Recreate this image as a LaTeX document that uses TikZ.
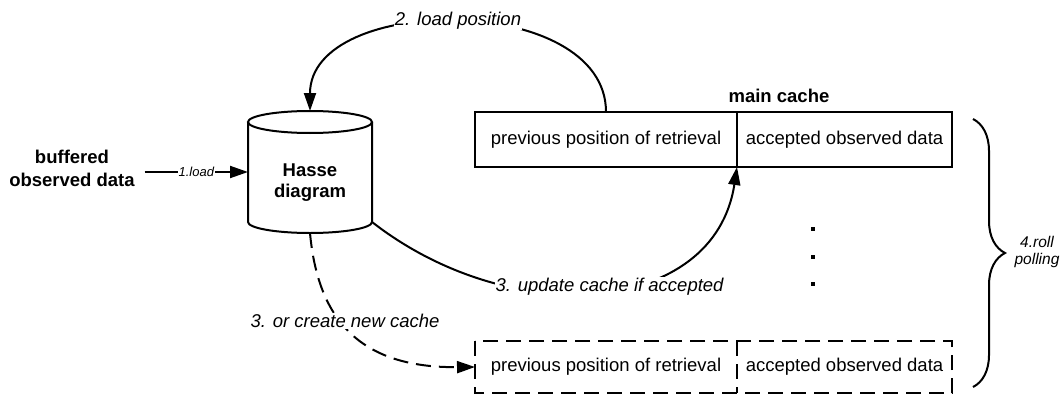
\documentclass[tikz,border=0pt]{standalone}
\usepackage{fontspec}
\setmainfont{Liberation Sans}
\usetikzlibrary{arrows.meta,decorations.pathreplacing}
\begin{document}
\begin{tikzpicture}[x=1pt,y=-1pt,line width=2pt,
  plain/.style={font=\fontsize{18.5}{22}\selectfont},
  boldtxt/.style={font=\fontsize{18.5}{23}\selectfont\bfseries},
  lbl/.style={font=\fontsize{18.5}{22}\selectfont\itshape, fill=white, inner sep=1pt},
  smalllbl/.style={font=\fontsize{13}{15}\selectfont\itshape, fill=white, inner sep=1pt},
  cell/.style={plain, inner sep=0pt, outer sep=0pt},
  flow/.style={-{Triangle[length=18pt,width=12pt]}},
  dashline/.style={dash pattern=on 15pt off 8pt}]
\useasboundingbox (0,0) rectangle (1062,396);

% Hasse diagram store (cylinder)
\node[minimum width=124pt, minimum height=122pt, inner sep=0pt, outer sep=0pt] (hasse) at (310,172) {};
\coordinate (hasseBR) at (372,222);
\draw (310,122) ellipse [x radius=62pt, y radius=11pt];
\draw (248,122) -- (248,222) arc[start angle=180, end angle=360, x radius=62pt, y radius=11pt] -- (372,122);
\node[font=\fontsize{18.5}{20.5}\selectfont\bfseries, align=center, inner sep=0pt] (hasseText) at (310,182.5) {Hasse\\diagram};

% incoming data
\node[boldtxt, align=center, inner ysep=0pt, inner xsep=9pt] (buffered) at (72,168) {buffered\\observed data};
\draw[flow] (buffered.east |- hasse.west) -- node[smalllbl] {1.load} (hasse.west);

% main cache
\node[cell, draw, minimum width=262pt, minimum height=55pt] (prevMain) at (606,139.5) {previous position of retrieval};
\node[cell, draw, minimum width=215pt, minimum height=55pt] (dataMain) at (844.5,139.5) {accepted observed data};
\node[boldtxt, anchor=base, inner sep=0pt] (mainLabel) at (779,102) {main cache};

% new cache
\node[cell, minimum width=262pt, minimum height=52pt] (prevNew) at (606,367) {previous position of retrieval};
\node[cell, minimum width=215pt, minimum height=52pt] (dataNew) at (844.5,367) {accepted observed data};
\draw[dashline] (prevNew.north west) rectangle (dataNew.south east);
\draw[dashline] (prevNew.north east) -- (prevNew.south east);

% ellipsis between caches
\foreach \y in {229,257,284}
  \fill (813,\y) +(-1.6,-1.6) rectangle +(1.6,1.6);

% rolling brace
\coordinate (braceTop) at (973,119);
\coordinate (braceBot) at (973,387);
\draw[decorate, decoration={brace, amplitude=32pt}] (braceTop) -- (braceBot);
\node[font=\fontsize{15.5}{17}\selectfont\itshape, align=center, inner sep=0pt] (roll) at (1037,252) {4.roll\\polling};

% connectors
\draw[flow] (prevMain.north) .. controls +(0,-120) and +(0,-118) ..
  node[lbl, pos=0.5, yshift=2pt] {2. load position} (hasse.north);
\draw[flow] (hasseBR) .. controls +(140,109) and +(-22.5,148.5) ..
  node[lbl, pos=0.5, xshift=11pt, yshift=4pt] {3. update cache if accepted} (prevMain.south east);
\draw[flow, dashline] (hasse.south) .. controls +(8,87) and +(-115,1) ..
  node[lbl, pos=0.42, xshift=4pt] {3. or create new cache} (prevNew.west);
\end{tikzpicture}
\end{document}
